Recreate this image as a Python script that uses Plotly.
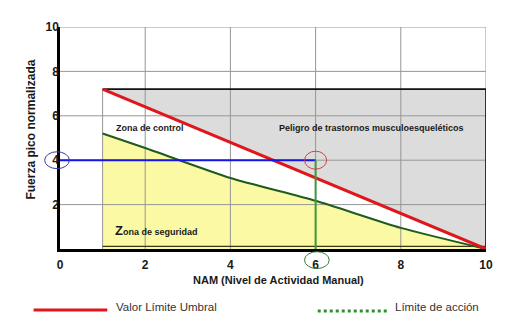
import plotly.graph_objects as go

# Axis ticks (NAM on x, normalised peak force on y)
ticks = [0, 2, 4, 6, 8, 10]
y_ticks = [2, 4, 6, 8, 10]

# Valor Límite Umbral (TLV) line
vlu_x = [1, 10]
vlu_y = [7.2, 0]

# Límite de acción (action limit) curve
la_x = [1, 2, 4, 6, 8, 10]
la_y = [5.2, 4.55, 3.2, 2.17, 0.95, 0]

# Worked example: NAM 6, peak force 4
ej_nam = 6
ej_fuerza = 4

FONT = "Liberation Sans, Arial, sans-serif"
TXT = "#1a1a1a"
LA_LINE = dict(shape="spline", smoothing=0.6)

fig = go.Figure()

# Hazard zone (above the TLV line, inside the box)
fig.add_trace(go.Scatter(
    x=[vlu_x[0], vlu_x[-1], vlu_x[-1], vlu_x[0]],
    y=[vlu_y[0], vlu_y[0], vlu_y[-1], vlu_y[0]],
    mode="lines", fill="toself", fillcolor="#dcdcdc",
    line=dict(width=0), hoverinfo="skip"))

# Safety zone (below the action limit)
fig.add_trace(go.Scatter(
    x=la_x, y=la_y, mode="lines", fill="tozeroy", fillcolor="#fbf9a3",
    line=dict(width=0, **LA_LINE), hoverinfo="skip"))

# Grid drawn on top of the filled zones
gx, gy = [], []
for t in ticks[1:]:
    gx += [t, t, None]
    gy += [0, 10, None]
for t in y_ticks:
    gx += [0, 10, None]
    gy += [t, t, None]
gx += [vlu_x[0], vlu_x[0], None]
gy += [0, vlu_y[0], None]
fig.add_trace(go.Scatter(x=gx, y=gy, mode="lines",
                         line=dict(color="#969696", width=1), hoverinfo="skip"))

# Box outline (top and right edges)
fig.add_trace(go.Scatter(
    x=[vlu_x[0], vlu_x[-1], vlu_x[-1]],
    y=[vlu_y[0], vlu_y[0], vlu_y[-1]],
    mode="lines", line=dict(color="#111111", width=1.6), hoverinfo="skip"))

# Bottom edge of the box, just above the axis
fig.add_trace(go.Scatter(x=[vlu_x[0], vlu_x[-1]], y=[0.12, 0.12], mode="lines",
                         line=dict(color="#3a3a10", width=1.2), hoverinfo="skip"))

# Action limit
fig.add_trace(go.Scatter(x=la_x, y=la_y, mode="lines",
                         line=dict(color="#1f5a1f", width=2, **LA_LINE),
                         hoverinfo="skip"))

# TLV
fig.add_trace(go.Scatter(x=vlu_x, y=vlu_y, mode="lines",
                         line=dict(color="#e0161b", width=3), hoverinfo="skip"))

# Example guide lines
fig.add_trace(go.Scatter(x=[0, ej_nam], y=[ej_fuerza, ej_fuerza], mode="lines",
                         line=dict(color="#1414e6", width=2), hoverinfo="skip"))
fig.add_trace(go.Scatter(x=[ej_nam, ej_nam], y=[ej_fuerza, 0], mode="lines",
                         line=dict(color="#3a9a3a", width=2), hoverinfo="skip"))

shapes = [
    # circle at the example point
    dict(type="circle", xref="x", yref="y",
         xsizemode="pixel", xanchor=ej_nam, x0=-11, x1=11,
         ysizemode="pixel", yanchor=ej_fuerza, y0=-9, y1=9,
         line=dict(color="#c84646", width=1)),
    # circle round the y tick "4"
    dict(type="circle", xref="paper", yref="paper",
         x0=-0.036, x1=0.022,
         y0=ej_fuerza / 10 - 0.038, y1=ej_fuerza / 10 + 0.038,
         line=dict(color="#3a3a9a", width=1)),
    # circle round the x tick "6"
    dict(type="circle", xref="paper", yref="paper",
         x0=ej_nam / 10 - 0.026, x1=ej_nam / 10 + 0.032,
         y0=-0.088, y1=-0.012,
         line=dict(color="#3a7a3a", width=1)),
    # key samples below the chart
    dict(type="line", xref="paper", yref="paper",
         x0=-0.062, x1=0.111, y0=-0.275, y1=-0.275,
         line=dict(color="#e0161b", width=3)),
    dict(type="line", xref="paper", yref="paper",
         x0=0.605, x1=0.771, y0=-0.279, y1=-0.279,
         line=dict(color="#2f8f2f", width=3, dash="dot")),
]

annotations = [
    dict(text="<b>Zona de control</b>", x=1.27, y=5.45, xref="x", yref="y",
         xanchor="left", yanchor="middle", showarrow=False,
         font=dict(family=FONT, size=9, color=TXT)),
    dict(text="<b>Peligro de trastornos musculoesqueléticos</b>", x=5.1, y=5.45,
         xref="x", yref="y", xanchor="left", yanchor="middle", showarrow=False,
         font=dict(family=FONT, size=9, color=TXT)),
    dict(text="<b><span style='font-size:13px'>Z</span>ona de seguridad</b>",
         x=1.25, y=0.82, xref="x", yref="y", xanchor="left", yanchor="middle",
         showarrow=False, font=dict(family=FONT, size=9, color=TXT)),
    dict(text="<b>Fuerza pico normalizada</b>", x=-0.067, y=0.54,
         xref="paper", yref="paper", textangle=-90, showarrow=False,
         xanchor="center", yanchor="middle",
         font=dict(family=FONT, size=12, color=TXT)),
    dict(text="<b>NAM (Nivel de Actividad Manual)</b>", x=0.513, y=-0.14,
         xref="paper", yref="paper", showarrow=False,
         xanchor="center", yanchor="middle",
         font=dict(family=FONT, size=11, color=TXT)),
    dict(text="Valor Límite Umbral", x=0.127, y=-0.262,
         xref="paper", yref="paper", showarrow=False,
         xanchor="left", yanchor="middle",
         font=dict(family=FONT, size=11.5, color="#333333")),
    dict(text="Límite de acción", x=0.781, y=-0.262,
         xref="paper", yref="paper", showarrow=False,
         xanchor="left", yanchor="middle",
         font=dict(family=FONT, size=11.5, color="#333333")),
]

axis_common = dict(
    range=[0, 10],
    showgrid=False, zeroline=False, showline=True, linecolor="#000000",
    linewidth=2.5, layer="above traces", fixedrange=True,
    tickfont=dict(family=FONT, size=12, color=TXT),
)

fig.update_layout(
    width=505, height=331,
    margin=dict(l=60, r=12, t=27, b=82),
    paper_bgcolor="white", plot_bgcolor="white",
    showlegend=False,
    shapes=shapes, annotations=annotations,
    xaxis=dict(**axis_common, tickvals=ticks, ticktext=[f"<b>{t}</b>" for t in ticks],
               ticks="outside", ticklen=3, tickcolor="rgba(0,0,0,0)"),
    yaxis=dict(**axis_common, tickvals=y_ticks, ticktext=[f"<b>{t}</b>" for t in y_ticks],
               ticks="", ticklabelstandoff=-4),
)

fig.write_html("out.html", config={"displayModeBar": False})
